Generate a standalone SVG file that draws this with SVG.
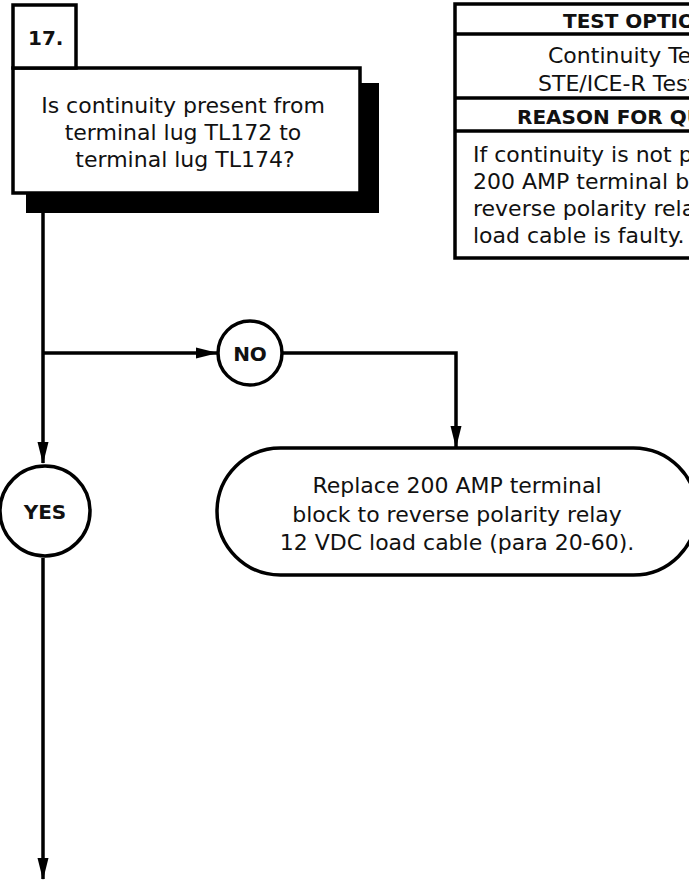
<svg xmlns="http://www.w3.org/2000/svg" width="689" height="880" viewBox="0 0 689 880">
<style>
.t{font-family:"DejaVu Sans","Liberation Sans",sans-serif;font-size:22px;fill:#111}
.b{font-weight:bold;font-size:20px}
.box{fill:#fff;stroke:#000;stroke-width:3.5}
.ln{fill:none;stroke:#000;stroke-width:3.5}
</style>
<defs>
<marker id="ah" markerUnits="userSpaceOnUse" markerWidth="22" markerHeight="12" refX="21" refY="6" orient="auto">
<path d="M0,0.5 L22,6 L0,11.5 Z" fill="#000"/>
</marker>
</defs>
<rect x="0" y="0" width="689" height="880" fill="#fff"/>
<g id="connectors">
<line class="ln" x1="43" y1="212" x2="43" y2="463" marker-end="url(#ah)"/>
<line class="ln" x1="43" y1="353" x2="217" y2="353" marker-end="url(#ah)"/>
<polyline class="ln" points="282,353 456,353 456,447" marker-end="url(#ah)"/>
<line class="ln" x1="43" y1="558" x2="43" y2="879" marker-end="url(#ah)"/>
</g>
<g id="step17">
<rect x="26" y="83" width="353" height="130" fill="#000"/>
<rect class="box" x="13" y="68" width="347" height="125"/>
<rect class="box" x="13" y="5" width="63" height="63"/>
<text class="t b" x="28" y="45">17.</text>
<text class="t" text-anchor="middle" x="183" y="113">Is continuity present from</text>
<text class="t" text-anchor="middle" x="183" y="140">terminal lug TL172 to</text>
<text class="t" text-anchor="middle" x="185" y="167">terminal lug TL174?</text>
</g>
<g id="table">
<rect class="box" x="455" y="4" width="340" height="254"/>
<line class="ln" x1="455" y1="34" x2="795" y2="34" stroke-width="4.5"/>
<line class="ln" x1="455" y1="98" x2="795" y2="98" stroke-width="4.5"/>
<line class="ln" x1="455" y1="131" x2="795" y2="131" stroke-width="4.5"/>
<text class="t b" x="563" y="28">TEST OPTIONS</text>
<text class="t" x="548" y="63">Continuity Test</text>
<text class="t" x="538" y="91">STE/ICE-R Test</text>
<text class="t b" x="517" y="124">REASON FOR QUESTION</text>
<text class="t" x="473" y="162">If continuity is not present,</text>
<text class="t" x="473" y="189">200 AMP terminal block to</text>
<text class="t" x="473" y="216">reverse polarity relay 12 VDC</text>
<text class="t" x="473" y="243">load cable is faulty.</text>
</g>
<g id="no">
<circle class="box" cx="250" cy="353" r="32"/>
<text class="t b" text-anchor="middle" x="250" y="361">NO</text>
</g>
<g id="yes">
<circle class="box" cx="45" cy="511" r="45"/>
<text class="t b" text-anchor="middle" x="45" y="519">YES</text>
</g>
<g id="replace">
<rect class="box" x="217" y="448" width="480" height="127" rx="63.5" ry="63.5"/>
<text class="t" text-anchor="middle" x="457" y="493">Replace 200 AMP terminal</text>
<text class="t" text-anchor="middle" x="457" y="522">block to reverse polarity relay</text>
<text class="t" text-anchor="middle" x="457" y="550">12 VDC load cable (para 20-60).</text>
</g>
</svg>
